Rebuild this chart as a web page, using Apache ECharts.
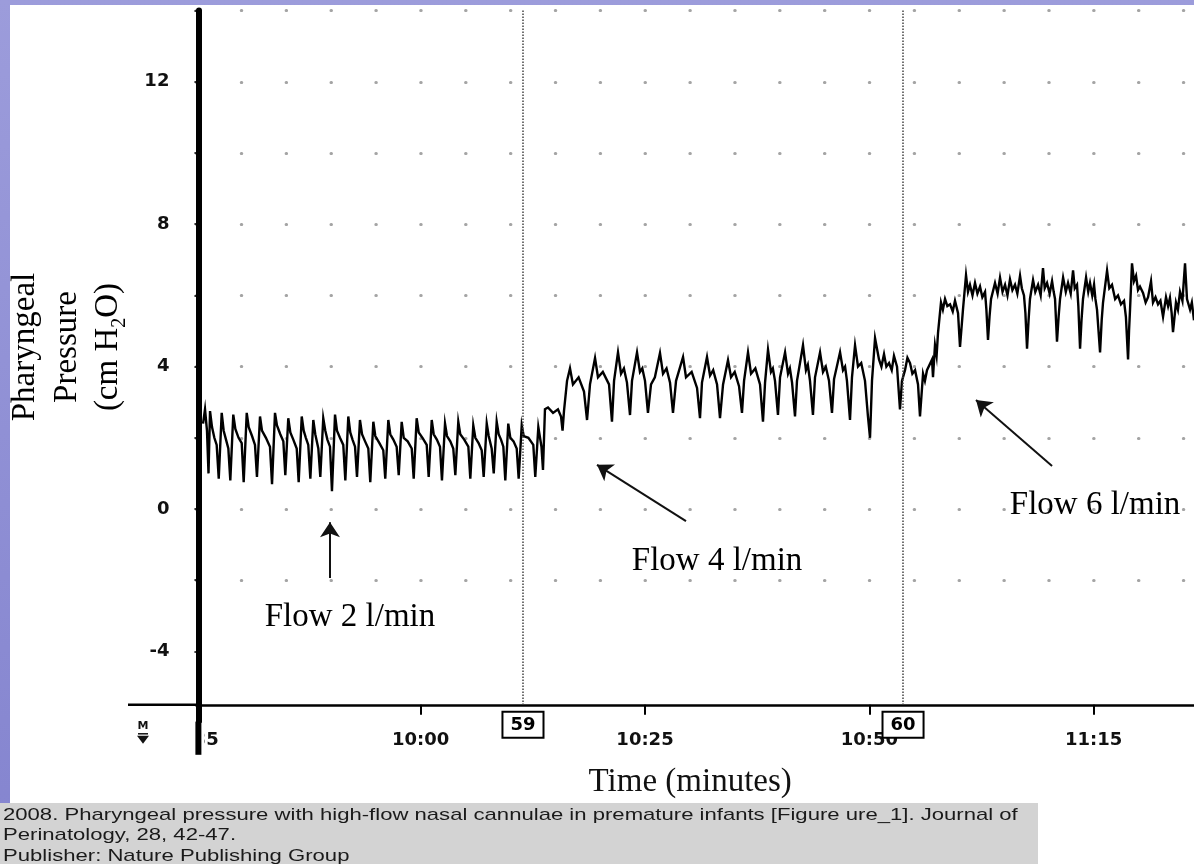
<!DOCTYPE html>
<html><head><meta charset="utf-8">
<script src="https://cdn.jsdelivr.net/npm/echarts@6/dist/echarts.min.js"></script>
<style>
html,body{margin:0;padding:0;width:1194px;height:864px;overflow:hidden;background:linear-gradient(180deg,#9c9cdb 0%,#8484cf 100%);}
#paper{position:absolute;left:10px;top:5px;width:1184px;height:859px;background:#fff;}
#chart{position:absolute;left:0;top:0;width:1194px;height:864px;}
</style></head><body>
<div id="paper"></div><div id="chart"></div>
<script>
// ---- data (x: minutes elapsed since 9:35, y: cm H2O) ----
const tickMinutes = [0, 25, 50, 75, 100];
const tickLabels = ['9:35', '10:00', '10:25', '10:50', '11:15'];
const yTickValues = [-4, -2, 0, 2, 4, 6, 8, 10, 12, 14];
const yLabelValues = [-4, 0, 4, 8, 12];
const eventNames = ['59', '60'];
const eventMinutes = [36.40, 78.76];
const flowTexts = ['Flow 2 l/min', 'Flow 4 l/min', 'Flow 6 l/min'];
const flowTextPos = [[17.12, -3.03], [58.03, -1.46], [100.16, 0.11]];
const arrowFrom = [[14.89, -1.94], [54.57, -0.34], [95.37, 1.21]];
const arrowTo = [[14.89, -0.37], [44.65, 1.24], [86.89, 3.06]];
const captionLines = [
  '2008. Pharyngeal pressure with high-flow nasal cannulae in premature infants [Figure ure_1]. Journal of',
  'Perinatology, 28, 42-47.',
  'Publisher: Nature Publishing Group'
];

const flow2Trace = [
  [0.74,2.4],[0.96,2.8],[1.18,2.2],[1.35,1.0],
  [1.52,2.75],[1.74,2.3],[2.0,2.0],[2.26,1.8],[2.49,0.85],
  [2.82,2.7],[3.04,2.2],[3.3,1.95],[3.56,1.7],[3.78,0.8],
  [4.11,2.65],[4.34,2.25],[4.7,2.0],[5.05,1.85],[5.27,0.75],
  [5.61,2.7],[5.83,2.3],[6.2,2.05],[6.53,1.8],[6.75,0.9],
  [7.09,2.6],[7.31,2.2],[7.75,2.0],[8.20,1.75],[8.43,0.7],
  [8.76,2.7],[8.98,2.35],[9.35,2.1],[9.69,1.9],[9.91,0.95],
  [10.24,2.55],[10.47,2.15],[10.8,1.95],[11.18,1.7],[11.40,0.75],
  [11.74,2.6],[11.96,2.2],[12.2,2.0],[12.47,1.8],[12.70,0.85],
  [13.03,2.5],[13.25,2.1],[13.59,1.7],[13.81,0.9],
  [14.14,2.55],[14.37,2.2],[14.6,1.95],[14.89,1.75],[15.11,0.5],
  [15.45,2.65],[15.67,2.2],[16.0,2.0],[16.37,1.8],[16.60,0.8],
  [16.93,2.6],[17.15,2.15],[17.4,1.95],[17.68,1.75],[17.90,0.9],
  [18.23,2.5],[18.46,2.1],[18.8,1.9],[19.16,1.7],[19.38,0.75],
  [19.72,2.45],[19.94,2.05],[20.4,1.85],[20.83,1.65],[21.05,0.85],
  [21.39,2.5],[21.61,2.1],[21.95,1.95],[22.32,1.75],[22.55,0.95],
  [22.88,2.45],[23.11,2.0],[23.55,1.9],[24.00,1.7],[24.22,0.85],
  [24.55,2.55],[24.78,2.15],[25.2,2.0],[25.67,1.8],[25.89,0.9],
  [26.23,2.5],[26.45,2.1],[26.8,1.95],[27.15,1.75],[27.37,0.8],
  [27.71,2.4],[27.93,2.05],[28.3,1.9],[28.63,1.7],[28.86,0.95],
  [29.19,2.45],[29.41,2.1],[29.85,1.95],[30.31,1.75],[30.53,0.85],
  [30.86,2.35],[31.09,2.0],[31.45,1.85],[31.80,1.65],[32.02,0.9],
  [32.36,2.4],[32.58,2.05],[32.91,1.7],[33.14,1.0],
  [33.47,2.45],[33.69,2.1],[33.95,1.95],[34.21,1.75],[34.43,0.8],
  [34.76,2.4],[34.99,2.0],[35.35,1.9],[35.70,1.7],[35.92,0.85],
  [36.26,2.35],[36.48,2.05],[37.0,2.0],[37.55,1.8],[37.77,0.9],
  [38.11,2.3],[38.30,2.0],[38.46,1.75],[38.63,1.1]
];
const flow4Trace = [
  [38.85,2.8],[39.19,2.85],[39.75,2.7],[40.30,2.8],[40.64,2.6],[40.81,2.2],[40.97,2.75],[41.31,3.6],
  [41.64,3.95],[41.97,3.5],[42.6,3.7],[43.20,3.3],[43.54,2.5],[43.87,3.5],
  [44.43,4.24],[44.76,3.7],[45.3,3.85],[45.99,3.5],[46.32,2.45],[46.55,3.6],
  [46.99,4.4],[47.33,3.8],[47.65,3.95],[47.99,3.55],[48.33,2.64],[48.55,3.6],
  [49.11,4.4],[49.44,3.85],[49.7,3.95],[50.00,3.6],[50.33,2.7],[50.67,3.5],[51.1,3.7],
  [51.67,4.38],[52.01,3.8],[52.4,3.95],[52.79,3.55],[53.12,2.7],[53.46,3.6],
  [54.24,4.27],[54.57,3.7],[55.2,3.85],[55.80,3.4],[56.13,2.55],[56.35,3.55],
  [56.91,4.27],[57.25,3.75],[57.6,3.9],[58.03,3.5],[58.36,2.55],[58.70,3.5],
  [59.25,4.18],[59.59,3.7],[60.0,3.85],[60.48,3.45],[60.81,2.7],[61.04,3.6],
  [61.48,4.4],[61.82,3.8],[62.3,3.95],[62.82,3.5],[63.15,2.45],[63.38,3.55],
  [63.71,4.47],[64.04,3.85],[64.25,3.95],[64.49,3.6],[64.82,2.64],[65.05,3.7],
  [65.61,4.4],[65.94,3.8],[66.15,3.95],[66.39,3.55],[66.72,2.6],[66.94,3.6],
  [67.61,4.6],[67.94,3.9],[68.15,4.05],[68.39,3.6],[68.72,2.64],[68.95,3.7],
  [69.51,4.4],[69.84,3.85],[70.15,4.0],[70.51,3.6],[70.84,2.7],[71.07,3.65],
  [71.74,4.4],[72.07,3.9],[72.3,4.0],[72.51,3.6],[72.85,2.5],[73.07,3.7],
  [73.41,4.6],[73.74,4.0],[74.1,4.1],[74.52,3.6],[74.85,2.6],[75.08,2.0],[75.30,3.6],
  [75.64,4.8],[76.08,4.2],[76.35,4.0],[76.64,4.35],[76.9,4.0],[77.20,4.1],[77.5,3.9],[77.75,4.3],[78.09,4.0],[78.42,2.8],[78.64,3.6]
];
const flow6Trace = [
  [78.98,3.9],[79.25,4.25],[79.54,4.1],[79.8,3.8],[80.10,3.9],[80.43,3.5],[80.65,2.6],[80.99,3.8],[81.2,3.6],[81.43,3.9],[81.99,4.2],[82.1,3.7],[82.32,4.6],[82.5,4.3],[82.66,4.95],
  [82.99,5.8],[83.2,5.6],[83.44,5.9],[83.7,5.7],[84.00,5.75],[84.3,5.55],[84.55,5.85],[84.89,5.5],[85.11,4.55],[85.44,5.6],
  [85.78,6.57],[86.0,6.1],[86.22,6.3],[86.5,6.0],[86.78,6.35],[87.05,6.05],[87.34,6.25],[87.6,5.95],[87.90,6.1],[88.05,5.6],[88.23,4.75],[88.4,5.4],[88.57,5.9],
  [89.01,6.35],[89.3,6.05],[89.57,6.5],[89.85,6.1],[90.13,6.3],[90.4,6.0],[90.68,6.45],[90.95,6.15],[91.24,6.3],[91.5,6.05],[91.80,6.55],[92.0,6.2],[92.24,6.0],[92.4,5.5],[92.58,4.5],[92.75,5.3],[92.91,5.9],
  [93.25,6.43],[93.5,6.1],[93.81,6.3],[94.1,6.0],[94.36,6.77],[94.55,6.2],[94.81,6.35],[95.1,6.05],[95.37,6.4],[95.55,6.1],[95.70,5.9],[95.92,4.7],[96.1,5.4],[96.26,5.9],
  [96.60,6.5],[96.9,6.1],[97.15,6.35],[97.45,6.05],[97.71,6.7],[97.9,6.2],[98.15,6.3],[98.3,5.7],[98.49,4.5],[98.65,5.3],[98.82,5.9],
  [99.16,6.5],[99.4,6.1],[99.60,6.35],[99.85,6.0],[100.05,6.3],[100.2,5.9],[100.38,5.6],[100.72,4.4],[100.9,5.3],[101.05,5.8],
  [101.50,6.7],[101.75,6.2],[102.05,6.3],[102.4,5.9],[102.72,6.0],[103.05,5.75],[103.39,5.85],[103.6,5.4],[103.84,4.2],[103.95,5.0],[104.06,5.6],
  [104.28,6.9],[104.5,6.4],[104.73,6.55],[104.95,6.15],[105.17,6.25],[105.51,6.07],[105.8,5.8],[106.07,5.95],[106.40,6.4],[106.62,5.8],[106.9,5.95],[107.18,5.75],
  [107.45,5.85],[107.74,5.4],[108.07,5.95],[108.3,5.7],[108.51,5.93],[108.7,5.5],[108.85,4.97],[109.18,5.8],[109.4,5.6],[109.63,6.1],[109.9,5.85],[110.19,6.9],[110.41,5.9],
  [110.75,5.6],[110.95,5.8],[111.19,5.3]
];

// ---- axis ranges ----
const X_MAX = 111.19, Y_MIN = -6, Y_MAX = 14, X_AXIS_LEVEL = -5.5;
const GRID = {left: 196.4, right: 0, top: 10.6, bottom: 141.4};
const gridH = 864 - GRID.top - GRID.bottom;
const xAxisOffset = -(X_AXIS_LEVEL - Y_MIN) * gridH / (Y_MAX - Y_MIN);

const SANS = 'DejaVu Sans';
const SERIF = 'Liberation Serif';

const chart = echarts.init(document.getElementById('chart'));
chart.setOption({
  animation: false,
  backgroundColor: 'transparent',
  grid: GRID,
  xAxis: {
    type: 'value', min: 0, max: X_MAX, interval: 25,
    offset: xAxisOffset,
    axisLine: {show: true, onZero: false, lineStyle: {color: '#000', width: 2.5}},
    axisTick: {show: true, customValues: tickMinutes, length: 10, lineStyle: {color: '#000', width: 2}},
    axisLabel: {
      customValues: tickMinutes, margin: 27, fontSize: 18, fontWeight: 'bold', fontFamily: SANS, color: '#111',
      formatter: v => tickLabels[tickMinutes.indexOf(v)] || ''
    },
    splitLine: {show: false},
    name: 'Time (minutes)', nameLocation: 'middle', nameGap: 61,
    nameTextStyle: {fontFamily: SERIF, fontSize: 33, color: '#111', padding: [0, 10, 0, 0]}
  },
  yAxis: {
    type: 'value', min: Y_MIN, max: Y_MAX, interval: 2, offset: -2,
    axisLine: {show: true, onZero: false, lineStyle: {color: '#000', width: 6}},
    axisTick: {show: true, customValues: yTickValues, length: 4, lineStyle: {color: '#000', width: 1.5}},
    axisLabel: {customValues: yLabelValues, margin: 29, fontSize: 18, fontWeight: 'bold', fontFamily: SANS, color: '#111'},
    splitLine: {
      show: true, showMinLine: false,
      lineStyle: {color: '#a4a4a4', width: 3, type: [0.5, 44.36], cap: 'round'}
    }
  },
  series: [
    {
      type: 'line', name: 'pressure',
      data: flow2Trace.concat(flow4Trace, flow6Trace),
      showSymbol: false, symbol: 'none', silent: true,
      lineStyle: {color: '#000', width: 2.4, join: 'miter'},
      markLine: {
        silent: true, symbol: 'none',
        lineStyle: {color: '#444', width: 1.5, type: [1.5, 1.5]},
        label: {
          show: true, position: 'end', distance: 8, formatter: p => p.name,
          fontFamily: SANS, fontSize: 18, fontWeight: 'bold', color: '#000',
          backgroundColor: '#fff', borderColor: '#000', borderWidth: 2, padding: [4, 7, 2, 7]
        },
        data: eventMinutes.map((t, i) => [
          {coord: [t, Y_MAX], name: eventNames[i]},
          {coord: [t, X_AXIS_LEVEL], name: eventNames[i]}
        ])
      }
    },
    {
      type: 'line', name: 'arrows', data: [], silent: true,
      markLine: {
        silent: true, symbol: ['none', 'arrow'], symbolSize: 15,
        lineStyle: {color: '#111', width: 2, type: 'solid'},
        label: {show: false},
        data: arrowFrom.map((f, i) => [{coord: f}, {coord: arrowTo[i]}])
      }
    },
    {
      type: 'scatter', name: 'flowLabels', silent: true, symbolSize: 0.1,
      itemStyle: {color: 'transparent', opacity: 1},
      label: {
        show: true, position: 'inside', formatter: '{b}', opacity: 1,
        fontFamily: SERIF, fontSize: 33, color: '#000', textBorderWidth: 0
      },
      data: flowTextPos.map((p, i) => ({value: p, name: flowTexts[i]}))
    }
  ]
});

// ---- decorations placed from axis coordinates ----
const [x0, yAx] = chart.convertToPixel({gridIndex: 0}, [0, X_AXIS_LEVEL]);
const yBottom = chart.convertToPixel({gridIndex: 0}, [0, Y_MIN])[1];
const yLineX = x0 + 2;
const [, yTitleC] = chart.convertToPixel({gridIndex: 0}, [0, 4.55]);

chart.setOption({
  graphic: [
    {type: 'rect', z: 50, shape: {x: 150, y: yAx + 18, width: yLineX + 6 - 150, height: 32}, style: {fill: '#fff'}},
    {type: 'line', z: 60, shape: {x1: yLineX, y1: yBottom - 1, x2: yLineX, y2: yAx + 50}, style: {stroke: '#000', lineWidth: 6}},
    {type: 'line', z: 60, shape: {x1: 128, y1: yAx, x2: x0, y2: yAx}, style: {stroke: '#000', lineWidth: 2.5}},
    {type: 'text', z: 60, x: 143, y: yAx + 16, style: {text: 'M', fill: '#111', font: 'bold 11px DejaVu Sans', align: 'center', verticalAlign: 'top'}},
    {type: 'line', z: 60, shape: {x1: 138, y1: yAx + 29, x2: 148, y2: yAx + 29}, style: {stroke: '#111', lineWidth: 1.5}},
    {type: 'polygon', z: 60, shape: {points: [[137, yAx + 31], [149, yAx + 31], [143, yAx + 39]]}, style: {fill: '#111'}},
    {
      type: 'text', z: 60, x: 67, y: yTitleC, rotation: Math.PI / 2,
      style: {
        text: '{a|Pharyngeal}\n{a|Pressure}\n{a|(cm H}{s|2}{a|O)}',
        align: 'center', verticalAlign: 'middle', fill: '#000',
        rich: {
          a: {fontFamily: SERIF, fontSize: 33, lineHeight: 41.5, fill: '#000'},
          s: {fontFamily: SERIF, fontSize: 20, lineHeight: 24, verticalAlign: 'bottom', fill: '#000'}
        }
      }
    },
    {type: 'rect', z: 1, shape: {x: 0, y: 803, width: 1038, height: 61}, style: {fill: '#d3d3d3'}},
    {
      type: 'text', z: 2, x: 3, y: 805, scaleX: 1.30,
      style: {text: captionLines.join('\n'), fill: '#1a1a1a', font: '17px Liberation Sans', lineHeight: 20.5, align: 'left', verticalAlign: 'top'}
    }
  ]
});
</script></body></html>
